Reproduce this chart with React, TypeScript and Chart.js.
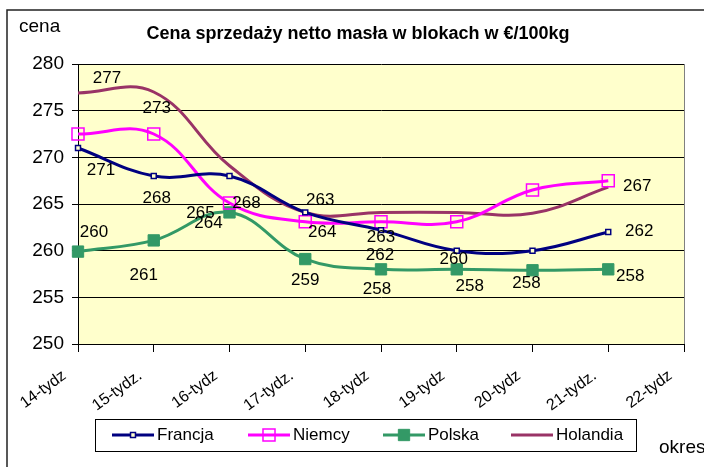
import React, { useEffect, useRef } from "react";
import { Chart, registerables } from "chart.js";
Chart.register(...registerables);

const categories = ["14-tydz", "15-tydz.", "16-tydz", "17-tydz.", "18-tydz", "19-tydz", "20-tydz", "21-tydz.", "22-tydz"];
const seriesNames = ["Francja", "Niemcy", "Polska", "Holandia"];
const francja = [271, 268, 268, 264.1, 262.2, 260, 260, 262];
const niemcy = [272.5, 272.5, 265.1, 263.1, 263.1, 263.1, 266.5, 267.5];
const polska = [259.9, 261.1, 264.1, 259.1, 258, 258, 257.9, 258];
const holandia = [276.9, 277, 269.1, 264.1, 264.1, 264.1, 264, 266.8];

const francjaLabels = ["271", "268", "268", "263", "262", "260", null, "262"];
const niemcyLabels = [null, null, "265", null, "263", null, null, "267"];
const polskaLabels = ["260", "261", "264", "259", "258", "258", "258", "258"];
const holandiaLabels = ["277", "273", null, "264", null, null, null, null];

const yTicks = [250, 255, 260, 265, 270, 275, 280];
const titleText = "Cena sprzedaży netto masła w blokach w €/100kg";
const yAxisTitle = "cena";
const xAxisTitle = "okres";

// label offsets in pixels (style only)
const francjaOff = [[23, 22], [3, 22], [17, 27], [15, -12], [-1, 25], [-3, 9], [0, 0], [31, -1]];
const niemcyOff = [[0, 0], [0, 0], [-29, 10], [0, 0], [0, 16], [0, 0], [0, 0], [29, 6]];
const polskaOff = [[16, -19], [-10, 35], [-21, 11], [0, 21], [-4, 20], [13, 17], [-6, 13], [22, 7]];
const holandiaOff = [[29, -15], [3, 16], [0, 0], [17, 20], [0, 0], [0, 0], [0, 0], [0, 0]];

const FONT = "'Liberation Sans', Arial, sans-serif";
const legendX = [112, 248, 383, 511];

export default function App() {
  const ref = useRef<HTMLCanvasElement | null>(null);
  useEffect(() => {
    const canvas = ref.current!;
    const labelSets = [francjaLabels, niemcyLabels, polskaLabels, holandiaLabels];
    const offSets = [francjaOff, niemcyOff, polskaOff, holandiaOff];

    const drawMarker = (ctx: CanvasRenderingContext2D, ds: any, x: number, y: number) => {
      if (!ds.pointRadius) return;
      const s = ds.pointRadius * Math.SQRT1_2;
      ctx.save();
      ctx.beginPath();
      ctx.rect(x - s, y - s, 2 * s, 2 * s);
      if (ds.pointBackgroundColor && ds.pointBackgroundColor !== "transparent") {
        ctx.fillStyle = ds.pointBackgroundColor;
        ctx.fill();
      }
      ctx.lineWidth = ds.pointBorderWidth;
      ctx.strokeStyle = ds.pointBorderColor;
      ctx.stroke();
      ctx.restore();
    };

    const deco = {
      id: "deco",
      beforeDraw(chart: any) {
        const { ctx, chartArea: a } = chart;
        ctx.save();
        ctx.fillStyle = "#FFFFCC";
        ctx.fillRect(a.left, a.top, a.right - a.left, a.bottom - a.top);
        ctx.restore();
      },
      afterDraw(chart: any) {
        const { ctx, chartArea: a, scales } = chart;
        ctx.save();
        // plot right border
        ctx.strokeStyle = "#808080";
        ctx.lineWidth = 1;
        ctx.beginPath();
        ctx.moveTo(a.right + 0.5, a.top);
        ctx.lineTo(a.right + 0.5, a.bottom);
        ctx.stroke();
        // outer frame
        ctx.strokeStyle = "#222";
        ctx.lineWidth = 1.5;
        ctx.beginPath();
        ctx.moveTo(7, 467);
        ctx.lineTo(7, 10);
        ctx.lineTo(704, 10);
        ctx.stroke();
        // texts
        ctx.fillStyle = "#000";
        ctx.textBaseline = "middle";
        ctx.font = `bold 18px ${FONT}`;
        ctx.textAlign = "center";
        ctx.fillText(titleText, 358, 34);
        ctx.font = `19px ${FONT}`;
        ctx.textAlign = "left";
        ctx.fillText(yAxisTitle, 19, 27);
        ctx.fillText(xAxisTitle, 659, 448);
        // x tick labels (rotated)
        ctx.font = `16px ${FONT}`;
        ctx.textAlign = "right";
        categories.forEach((c, i) => {
          const x = scales.x.getPixelForValue(i) - 13.5;
          const y = a.bottom + 30;
          ctx.save();
          ctx.translate(x, y);
          ctx.rotate((-36 * Math.PI) / 180);
          ctx.fillText(c, 0, 0);
          ctx.restore();
        });
        // data labels
        ctx.font = `17px ${FONT}`;
        ctx.textAlign = "center";
        chart.data.datasets.forEach((ds: any, i: number) => {
          const labs = labelSets[i];
          const offs = offSets[i];
          ds.data.forEach((v: number, j: number) => {
            const t = labs[j];
            if (!t) return;
            const x = scales.x.getPixelForValue(j) + offs[j][0];
            const y = scales.y.getPixelForValue(v) + offs[j][1];
            ctx.fillText(t, x, y);
          });
        });
        // legend
        ctx.fillStyle = "#fff";
        ctx.fillRect(95, 419, 541, 32);
        ctx.strokeStyle = "#000";
        ctx.lineWidth = 1;
        ctx.strokeRect(95.5, 419.5, 541, 32);
        const ly = 435;
        chart.data.datasets.forEach((ds: any, i: number) => {
          const x0 = legendX[i];
          ctx.strokeStyle = ds.borderColor;
          ctx.lineWidth = ds.borderWidth;
          ctx.beginPath();
          ctx.moveTo(x0, ly);
          ctx.lineTo(x0 + 42, ly);
          ctx.stroke();
          drawMarker(ctx, ds, x0 + 21, ly);
          ctx.fillStyle = "#000";
          ctx.font = `17px ${FONT}`;
          ctx.textAlign = "left";
          ctx.fillText(ds.label, x0 + 45, ly);
        });
        ctx.restore();
      },
    };

    const chart = new Chart(canvas, {
      type: "line",
      data: {
        labels: categories,
        datasets: [
          {
            label: seriesNames[0], data: francja, borderColor: "#000080", borderWidth: 3,
            pointStyle: "rect", pointRadius: 3.5, pointBackgroundColor: "#FFFFCC",
            pointBorderColor: "#000080", pointBorderWidth: 1.5, tension: 0.4,
          },
          {
            label: seriesNames[1], data: niemcy, borderColor: "#FF00FF", borderWidth: 3,
            pointStyle: "rect", pointRadius: 8.5, pointBackgroundColor: "transparent",
            pointBorderColor: "#FF00FF", pointBorderWidth: 1.5, tension: 0.4,
          },
          {
            label: seriesNames[2], data: polska, borderColor: "#339966", borderWidth: 3,
            pointStyle: "rect", pointRadius: 8, pointBackgroundColor: "#339966",
            pointBorderColor: "#339966", pointBorderWidth: 1, tension: 0.4,
          },
          {
            label: seriesNames[3], data: holandia, borderColor: "#993366", borderWidth: 3,
            pointRadius: 0, tension: 0.4,
          },
        ] as any,
      },
      options: {
        responsive: false,
        animation: false,
        layout: { padding: { left: 0, top: 64, right: 20, bottom: 63 } },
        plugins: { legend: { display: false }, title: { display: false }, tooltip: { enabled: false } },
        scales: {
          x: {
            offset: false,
            afterFit: (s: any) => { s.height = 60; },
            grid: { drawOnChartArea: false, drawTicks: true, tickLength: 8, color: "#000" },
            border: { display: true, color: "#000", width: 1 },
            ticks: { display: false, autoSkip: false },
          },
          y: {
            min: 250, max: 280,
            afterFit: (s: any) => { s.width = 78; },
            afterBuildTicks: (s: any) => { s.ticks = yTicks.map((v) => ({ value: v })); },
            grid: { color: "#000", tickLength: 6, lineWidth: 1 },
            border: { display: true, color: "#000", width: 1 },
            ticks: { color: "#000", font: { family: FONT, size: 19 }, padding: 8 },
          },
        },
      },
      plugins: [deco],
    });
    return () => chart.destroy();
  }, []);
  return (
    <div style={{ position: "absolute", left: 0, top: 0, width: 704, height: 467 }}>
      <canvas ref={ref} width={704} height={467} />
    </div>
  );
}
